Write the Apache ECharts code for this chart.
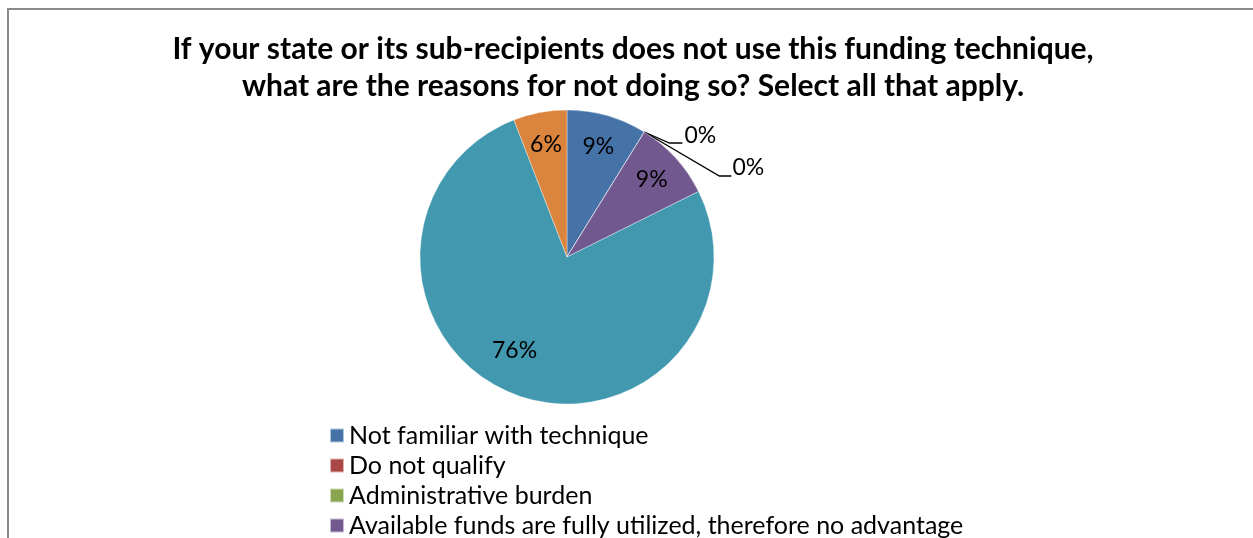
<!DOCTYPE html>
<html>
<head>
<meta charset="utf-8">
<script src="https://cdn.jsdelivr.net/npm/echarts@6/dist/echarts.min.js"></script>
<style>
  html, body { margin: 0; padding: 0; background: #ffffff; }
  #chart { width: 1253px; height: 538px; }
</style>
</head>
<body>
<div id="chart"></div>
<script>
// Survey reasons for not using the funding technique (number of responses)
const reasons = [
  'Not familiar with technique',
  'Do not qualify',
  'Administrative burden',
  'Available funds are fully utilized, therefore no advantage',
  'Not cost effective',
  'Other'
];
const responses = [3, 0, 0, 3, 26, 2];
const sliceColors = ['#4572A7', '#AA4643', '#89A54E', '#71588F', '#4198AF', '#DB843D'];
const legendNames = reasons.slice(0, 4);

const chartTitle = 'If your state or its sub-recipients does not use this funding technique,\nwhat are the reasons for not doing so? Select all that apply.';

const PIE_CX = 567, PIE_CY = 257, PIE_R = 147;
const LABEL_RADIUS = 0.78;
const total = responses.reduce((a, b) => a + b, 0);

// angle (radians, clockwise from 12 o'clock) at the start of each slice
function sliceStart(i) {
  let s = 0;
  for (let k = 0; k < i; k++) s += responses[k];
  return s / total * Math.PI * 2;
}

// leader offsets for the zero-size slices (callouts drawn outside the pie)
const calloutOffsets = {
  1: { bend: [25, 11], end: [38, 11], text: [40, 4] },
  2: { bend: [75, 44], end: [87, 44], text: [88, 36] }
};
// small nudges for inside labels
const labelNudge = { 4: [-11, -13] };

const chart = echarts.init(document.getElementById('chart'), null, { renderer: 'canvas' });

const labelFont = { fontFamily: 'Lato', fontSize: 23, color: '#000000' };

chart.setOption({
  animation: false,
  color: sliceColors,
  title: {
    text: chartTitle,
    left: 633,
    top: 31,
    padding: 0,
    textAlign: 'center',
    textStyle: {
      fontFamily: 'Lato',
      fontWeight: 'bold',
      fontSize: 30,
      lineHeight: 37,
      color: '#000000'
    }
  },
  legend: {
    data: legendNames,
    orient: 'vertical',
    left: 329,
    top: 423,
    height: 200,
    padding: 0,
    itemWidth: 14,
    itemHeight: 14,
    itemGap: 5,
    icon: 'rect',
    textStyle: { fontFamily: 'Lato', fontSize: 25, lineHeight: 24, color: '#000000' }
  },
  graphic: [{
    type: 'rect',
    silent: true,
    shape: { x: 8, y: 9, width: 1300, height: 600 },
    style: { fill: 'none', stroke: '#8a8a8a', lineWidth: 2 }
  }],
  series: [{
    type: 'pie',
    center: [PIE_CX, PIE_CY],
    radius: PIE_R,
    startAngle: 90,
    clockwise: true,
    percentPrecision: 2,
    avoidLabelOverlap: false,
    minShowLabelAngle: 0,
    itemStyle: { borderColor: 'rgba(255,255,255,0.6)', borderWidth: 0.6 },
    label: Object.assign({
      position: 'inside',
      formatter: p => Math.round(p.percent) + '%'
    }, labelFont),
    labelLine: { show: true, lineStyle: { color: '#000000', width: 1.3 } },
    emphasis: { disabled: true },
    data: reasons.map((name, i) => {
      const item = { name: name, value: responses[i] };
      if (responses[i] === 0) {
        item.label = { position: 'outside' };
        item.labelLine = { show: true, length: 20, length2: 10 };
      } else {
        item.labelLine = { show: false };
      }
      return item;
    }),
    labelLayout: function (params) {
      const i = params.dataIndex;
      const a0 = sliceStart(i);
      const a1 = sliceStart(i + 1);
      if (responses[i] === 0) {
        const ax = PIE_CX + PIE_R * Math.sin(a0);
        const ay = PIE_CY - PIE_R * Math.cos(a0);
        const o = calloutOffsets[i];
        return {
          x: ax + o.text[0],
          y: ay + o.text[1],
          align: 'left',
          verticalAlign: 'middle',
          labelLinePoints: [
            [ax, ay],
            [ax + o.bend[0], ay + o.bend[1]],
            [ax + o.end[0], ay + o.end[1]]
          ]
        };
      }
      const mid = (a0 + a1) / 2;
      const rr = PIE_R * LABEL_RADIUS;
      const n = labelNudge[i] || [0, 0];
      return {
        x: PIE_CX + rr * Math.sin(mid) + n[0],
        y: PIE_CY - rr * Math.cos(mid) + n[1],
        align: 'center',
        verticalAlign: 'middle'
      };
    }
  }]
});
</script>
</body>
</html>
